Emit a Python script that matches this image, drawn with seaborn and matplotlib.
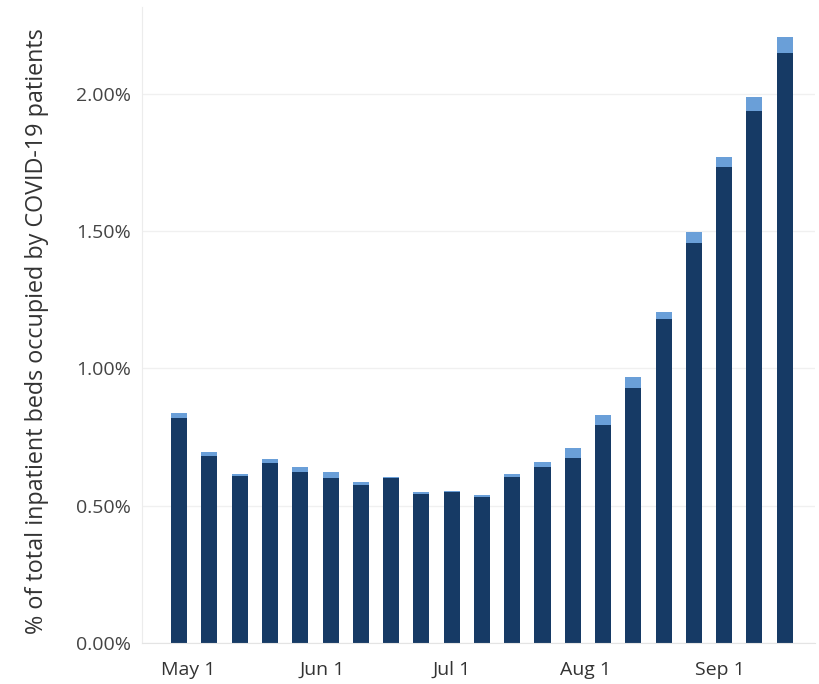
import pandas as pd
import numpy as np
import matplotlib
matplotlib.use("Agg")
import matplotlib.pyplot as plt
import matplotlib.dates as mdates
from matplotlib.ticker import FuncFormatter
import seaborn as sns

# weekly values, % of inpatient beds
week_start = pd.date_range("2020-04-29", periods=21, freq="7D")
dark_part = [0.820, 0.681, 0.608, 0.654, 0.623, 0.600, 0.575, 0.600, 0.542, 0.549, 0.530,
             0.603, 0.640, 0.673, 0.794, 0.928, 1.181, 1.456, 1.736, 1.940, 2.150]
total = [0.838, 0.697, 0.615, 0.671, 0.640, 0.621, 0.587, 0.605, 0.549, 0.554, 0.539,
         0.615, 0.660, 0.709, 0.830, 0.968, 1.206, 1.499, 1.772, 1.989, 2.208]

df = pd.DataFrame({"date": mdates.date2num(week_start),
                   "dark": dark_part, "total": total})

sns.set_style("white")
plt.rcParams['font.family'] = ['Open Sans', 'DejaVu Sans']

fig = plt.figure(figsize=(8.19, 6.84), dpi=100)
ax = fig.add_axes([142 / 819, 1 - 642.7 / 684, (815 - 142) / 819, (642.7 - 7) / 684])

sns.barplot(data=df, x="date", y="total", native_scale=True, color="#6a9fd8",
            width=0.53, linewidth=0, saturation=1, ax=ax)
sns.barplot(data=df, x="date", y="dark", native_scale=True, color="#163a65",
            width=0.53, linewidth=0, saturation=1, ax=ax)

ax.xaxis_date()
ax.set_xlim(mdates.date2num(pd.Timestamp("2020-04-20 10:00")),
            mdates.date2num(pd.Timestamp("2020-09-23")))
ax.set_ylim(0, 2.318)
ax.xaxis.set_major_locator(mdates.MonthLocator(bymonth=[5, 6, 7, 8, 9]))
ax.xaxis.set_major_formatter(mdates.DateFormatter("%b %-d"))
ax.set_yticks([0, 0.5, 1.0, 1.5, 2.0])
ax.yaxis.set_major_formatter(FuncFormatter(lambda v, p: f"{v:.2f}%"))

ax.grid(axis="y", color="#f0f0f0", linewidth=1)
ax.set_axisbelow(True)
for s in ["top", "right"]:
    ax.spines[s].set_visible(False)
ax.spines["left"].set_color("#ececec")
ax.spines["bottom"].set_color("#e4e4e4")
ax.tick_params(axis="y", length=0, pad=8, labelsize=14, labelcolor="#444444")
ax.tick_params(axis="x", length=4, color="#e4e4e4", pad=9, labelsize=14,
               labelcolor="#333333")

ax.set_xlabel("")
ax.set_ylabel("% of total inpatient beds occupied by COVID-19 patients",
              fontsize=16.8, color="#333333")
ax.yaxis.set_label_coords(-0.138, 0.49)

fig.savefig("out.png", dpi=100)
